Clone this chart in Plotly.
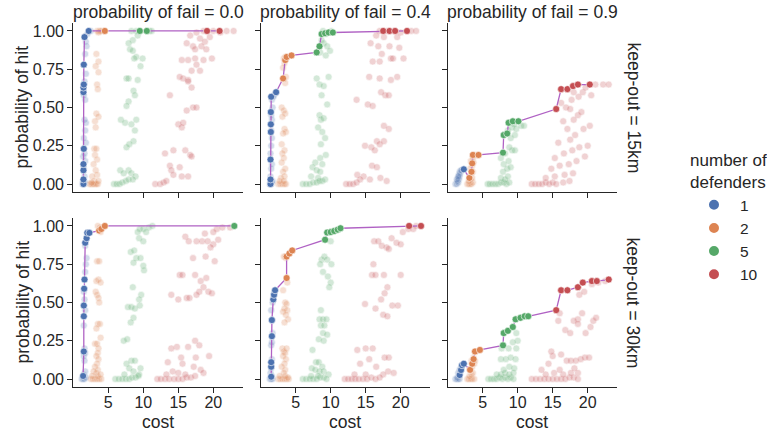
import plotly.graph_objects as go

GROUPS = ["1", "2", "5", "10"]
COLORS = ["#4C72B0", "#DD8452", "#55A868", "#C44E52"]
FAIL_PROBS = ["0.0", "0.4", "0.9"]
KEEP_OUTS = ["15km", "30km"]
X_TICKS = [5, 10, 15, 20]
Y_TICKS = [0, 0.25, 0.5, 0.75, 1.0]
Y_TICK_LABELS = ["0.00", "0.25", "0.50", "0.75", "1.00"]

# ---------- keep-out 15km, fail 0.0 ----------
A1_all = [(1.3,0.0),(1.5,0.0),(1.7,0.01),(1.4,0.02),(1.6,0.05),(1.5,0.1),(1.7,0.15),(1.4,0.18),(1.6,0.2),(1.8,0.27),
          (1.5,0.3),(1.7,0.35),(1.8,0.4),(1.6,0.42),(1.7,0.55),(1.5,0.58),(1.6,0.67),(1.8,0.72),(1.7,0.85),(1.9,0.9),
          (1.8,0.93),(2.0,0.98),(2.5,1.0)]
A2_all = [(3.4,1.0),(3.7,1.0),(3.9,1.0),(4.1,1.0),(3.6,0.99),(3.3,0.85),(3.6,0.8),(3.2,0.77),(3.6,0.73),(3.4,0.65),
          (3.5,0.62),(3.3,0.46),(3.6,0.44),(3.1,0.41),(3.2,0.37),(3.0,0.23),(3.3,0.23),(3.1,0.19),(3.4,0.16),(2.9,0.13),
          (3.2,0.09),(3.4,0.06),(2.7,0.05),(3.0,0.02),(2.3,0.0),(2.5,0.0),(2.7,0.0),(2.9,0.0),(3.1,0.0),(3.3,0.0),
          (3.5,0.0),(2.6,0.01),(3.6,0.02)]
A5_all = [(8.3,1.0),(9.0,1.0),(10.5,1.0),(10.9,1.0),(11.2,1.0),(8.5,0.94),(9.2,0.97),(7.9,0.92),(8.1,0.88),(8.5,0.87),
          (9.0,0.83),(8.7,0.82),(9.9,0.82),(9.6,0.77),(7.6,0.69),(7.9,0.69),(9.2,0.68),(8.6,0.61),(8.8,0.58),(7.9,0.54),
          (7.6,0.51),(6.8,0.42),(7.4,0.40),(8.3,0.39),(9.0,0.42),(8.8,0.35),(7.6,0.24),(8.0,0.26),(8.6,0.28),(6.7,0.09),
          (7.9,0.09),(7.2,0.07),(8.3,0.07),(8.9,0.05),(5.8,0.0),(6.2,0.0),(6.6,0.0),(7.0,0.01),(7.5,0.02),(7.9,0.03),(8.5,0.03)]
A10_all = [(21.9,1.0),(22.9,1.0),(21.0,0.99),(20.0,1.0),(18.6,1.0),(17.6,0.99),(16.7,0.97),(18.1,0.95),(18.8,0.93),(19.5,0.96),
           (18.3,0.9),(17.1,0.9),(16.2,0.92),(19.0,0.88),(17.4,0.88),(19.8,0.82),(18.6,0.81),(17.4,0.82),(16.4,0.81),(15.5,0.81),
           (17.6,0.78),(16.9,0.74),(18.1,0.74),(16.4,0.68),(15.7,0.69),(15.2,0.70),(16.9,0.63),(16.4,0.67),(17.1,0.5),(17.6,0.5),
           (16.2,0.48),(13.8,0.58),(15.0,0.39),(15.5,0.37),(15.7,0.4),(13.1,0.2),(14.3,0.22),(16.0,0.22),(16.7,0.19),(16.9,0.18),
           (13.8,0.12),(14.0,0.09),(15.2,0.11),(14.3,0.06),(15.5,0.05),(16.4,0.05),(11.7,0.0),(12.4,0.0),(12.9,0.01),(13.3,0.02)]
A1_front = [(1.45,0.0),(1.45,0.03),(1.45,0.09),(1.45,0.13),(1.5,0.23),(1.45,0.60),(1.45,0.63),(1.5,0.65),(1.5,0.78),(1.6,0.96),(2.2,1.0)]
A2_front = [(4.5,1.0)]
A5_front = [(9.5,1.0),(10.5,1.0)]
A10_front = [(19.1,1.0),(20.9,1.0)]

# ---------- keep-out 15km, fail 0.4 ----------
B1_all = [(1.3,0.0),(1.5,0.0),(1.6,0.01),(1.7,0.02),(1.4,0.05),(1.5,0.1),(1.6,0.13),(1.4,0.2),(1.5,0.25),(1.6,0.3),
          (1.5,0.35),(1.6,0.42),(1.5,0.45),(1.7,0.5),(1.6,0.55),(1.8,0.57),(1.9,0.58)]
B2_all = [(3.3,0.82),(3.5,0.83),(3.6,0.82),(3.4,0.79),(3.2,0.76),(3.6,0.7),(3.3,0.69),(3.5,0.66),(3.0,0.5),(3.3,0.48),
          (3.5,0.46),(3.1,0.44),(3.4,0.36),(3.6,0.34),(3.2,0.33),(3.0,0.26),(3.4,0.22),(3.1,0.2),(3.3,0.17),(3.0,0.14),
          (3.5,0.1),(3.2,0.08),(3.4,0.05),(2.9,0.04),(2.5,0.0),(2.8,0.0),(3.1,0.0),(3.4,0.0),(3.6,0.0),(2.7,0.02),(3.3,0.02)]
B5_all = [(8.9,1.0),(9.3,0.98),(9.8,0.99),(10.1,1.0),(8.7,0.94),(9.0,0.92),(9.5,0.9),(9.9,0.87),(8.5,0.86),(9.3,0.84),
          (8.0,0.69),(8.4,0.65),(9.0,0.64),(9.7,0.7),(8.7,0.58),(9.5,0.52),(8.6,0.42),(8.4,0.45),(9.0,0.43),(8.2,0.37),
          (8.8,0.34),(9.2,0.3),(8.6,0.26),(9.3,0.19),(8.5,0.17),(7.8,0.14),(8.8,0.13),(7.4,0.11),(8.0,0.09),(8.5,0.08),
          (7.2,0.05),(8.2,0.04),(6.0,0.0),(6.5,0.0),(7.0,0.0),(7.5,0.01),(8.0,0.01),(8.4,0.02),(8.8,0.02),(9.2,0.03)]
B10_all = [(17.0,1.0),(18.0,1.0),(19.0,1.0),(20.0,0.99),(21.5,1.0),(22.2,1.0),(16.5,0.97),(17.6,0.96),(19.5,0.96),(15.7,0.92),
           (16.8,0.9),(18.4,0.9),(19.8,0.89),(17.3,0.85),(18.6,0.82),(20.4,0.82),(16.0,0.8),(17.0,0.8),(18.9,0.82),(15.5,0.7),
           (17.0,0.69),(18.6,0.68),(19.5,0.7),(13.7,0.55),(15.3,0.52),(16.0,0.51),(17.8,0.58),(18.3,0.58),(17.2,0.6),(17.6,0.38),
           (18.3,0.36),(16.6,0.28),(17.0,0.26),(14.9,0.25),(15.8,0.24),(16.3,0.22),(17.6,0.28),(15.9,0.12),(16.6,0.11),(13.8,0.06),
           (14.7,0.05),(15.6,0.03),(17.1,0.04),(18.0,0.02),(12.2,0.0),(12.7,0.0),(13.2,0.0),(13.7,0.01),(14.2,0.03)]
B1_front = [(1.4,0.0),(1.4,0.03),(1.4,0.16),(1.45,0.34),(1.45,0.39),(1.45,0.47),(1.5,0.57),(2.2,0.60)]
B2_front = [(3.2,0.69),(3.5,0.81),(3.7,0.83),(4.4,0.84)]
B5_front = [(8.0,0.86),(8.4,0.90),(8.7,0.98),(9.2,0.985),(9.7,0.99),(10.3,0.99)]
B10_front = [(17.5,1.0),(18.4,1.0),(19.2,1.0),(20.9,1.0)]

# ---------- keep-out 15km, fail 0.9 ----------
C1_all = [(1.1,0.0),(1.3,0.0),(1.5,0.01),(1.4,0.02),(1.6,0.03),(1.5,0.04),(1.7,0.05),(1.6,0.06),(1.8,0.07),(1.7,0.08),
          (1.9,0.09),(2.0,0.09),(1.3,0.03),(1.5,0.05)]
C2_all = [(2.8,0.0),(3.0,0.0),(3.2,0.0),(3.4,0.0),(3.6,0.01),(3.0,0.02),(3.3,0.03),(3.5,0.04),(3.1,0.05),(3.4,0.07),
          (3.6,0.08),(3.2,0.1),(3.5,0.12),(3.7,0.14),(3.3,0.15),(3.6,0.17),(3.9,0.19),(4.2,0.19)]
C5_all = [(5.7,0.0),(6.0,0.0),(6.4,0.0),(6.8,0.0),(7.2,0.0),(7.6,0.01),(8.0,0.01),(8.4,0.0),(8.8,0.01),(7.6,0.04),
          (8.2,0.03),(8.6,0.05),(7.9,0.08),(8.5,0.1),(9.0,0.11),(8.0,0.13),(8.7,0.15),(7.6,0.17),(8.2,0.2),(9.2,0.22),
          (9.6,0.22),(8.8,0.24),(9.0,0.3),(9.6,0.32),(8.6,0.35),(9.2,0.37),(9.8,0.36),(10.5,0.38),(10.9,0.38),(9.5,0.39)]
C10_all = [(12.0,0.0),(12.5,0.0),(13.0,0.0),(13.5,0.0),(14.0,0.01),(14.5,0.0),(15.0,0.01),(15.5,0.0),(16.5,0.01),(17.4,0.02),
           (14.0,0.04),(15.3,0.05),(16.7,0.06),(17.9,0.07),(14.8,0.1),(16.0,0.12),(17.3,0.13),(18.4,0.15),(19.6,0.18),(15.3,0.17),
           (16.6,0.2),(17.8,0.22),(18.8,0.24),(20.0,0.25),(15.8,0.27),(17.5,0.29),(18.2,0.32),(19.4,0.36),(20.3,0.38),(17.1,0.36),
           (16.5,0.41),(18.0,0.42),(18.6,0.45),(19.1,0.47),(16.9,0.5),(17.5,0.49),(16.2,0.53),(17.7,0.55),(18.7,0.57),(19.3,0.6),
           (20.5,0.58),(21.1,0.65),(22.2,0.65),(23.0,0.65),(18.0,0.6),(19.7,0.63)]
C1_front = [(2.3,0.096)]
C2_front = [(3.1,0.04),(3.4,0.08),(3.5,0.135),(3.6,0.19),(4.4,0.19)]
C5_front = [(7.9,0.205),(8.0,0.32),(8.5,0.33),(8.7,0.40),(9.3,0.41),(10.1,0.41)]
C10_front = [(15.5,0.49),(16.2,0.62),(17.1,0.62),(17.9,0.64),(18.6,0.65),(20.3,0.65)]

# ---------- keep-out 30km, fail 0.0 ----------
D1_all = [(1.2,0.0),(1.4,0.0),(1.6,0.0),(1.8,0.01),(1.5,0.03),(1.7,0.05),(1.6,0.12),(1.5,0.15),(1.7,0.17),(1.6,0.2),
          (1.5,0.35),(1.7,0.45),(1.6,0.52),(1.5,0.57),(1.7,0.7),(1.8,0.75),(1.9,0.79),(1.7,0.87),(1.9,0.93)]
D2_all = [(3.5,1.0),(3.8,0.99),(4.2,0.99),(3.9,0.96),(3.4,0.77),(3.7,0.77),(3.6,0.65),(3.3,0.64),(3.9,0.63),(3.2,0.57),
          (3.4,0.55),(3.6,0.53),(3.7,0.5),(3.5,0.36),(3.8,0.36),(3.3,0.33),(3.9,0.27),(3.1,0.23),(3.4,0.23),(3.6,0.2),
          (3.5,0.17),(3.3,0.15),(3.6,0.13),(3.4,0.1),(3.1,0.08),(3.5,0.06),(2.9,0.05),(3.3,0.04),(2.5,0.0),(2.8,0.0),
          (3.1,0.0),(3.4,0.0),(3.7,0.0),(4.0,0.0),(2.7,0.02),(3.5,0.02),(3.9,0.03)]
D5_all = [(9.5,0.98),(10.0,0.98),(10.8,0.99),(11.3,1.0),(9.2,0.96),(10.4,0.96),(9.4,0.92),(10.0,0.9),(8.2,0.83),(8.7,0.84),
          (9.0,0.79),(9.6,0.79),(8.6,0.76),(10.0,0.74),(10.1,0.71),(8.5,0.6),(9.7,0.55),(9.4,0.52),(7.8,0.47),(8.3,0.47),
          (8.8,0.46),(9.5,0.48),(8.6,0.4),(8.2,0.37),(7.2,0.25),(7.7,0.26),(8.3,0.12),(7.6,0.1),(8.8,0.12),(9.6,0.07),
          (8.0,0.07),(8.6,0.05),(9.4,0.03),(6.0,0.0),(6.5,0.0),(7.0,0.0),(7.5,0.0),(8.0,0.0),(8.4,0.01),(8.9,0.01),
          (9.3,0.02),(7.3,0.03)]
D10_all = [(20.5,0.98),(21.3,0.99),(22.4,0.99),(18.8,0.95),(20.0,0.96),(16.0,0.93),(16.5,0.9),(17.6,0.9),(18.4,0.9),(19.2,0.9),
           (20.0,0.88),(19.6,0.86),(20.7,0.91),(18.9,0.8),(17.1,0.79),(20.2,0.77),(15.2,0.68),(15.6,0.68),(17.4,0.68),(18.2,0.64),
           (19.0,0.66),(18.6,0.6),(18.0,0.57),(17.6,0.55),(19.3,0.57),(19.8,0.56),(16.2,0.53),(16.6,0.53),(14.0,0.55),(15.0,0.52),
           (17.4,0.25),(18.0,0.22),(16.4,0.21),(14.8,0.21),(14.0,0.2),(15.4,0.14),(17.5,0.14),(19.4,0.15),(13.5,0.11),(15.6,0.1),
           (17.2,0.08),(18.2,0.06),(14.2,0.05),(15.0,0.04),(18.6,0.04),(12.0,0.0),(12.5,0.0),(13.1,0.0),(13.7,0.0),(14.4,0.0),
           (15.0,0.0),(15.6,0.0),(16.2,0.01),(16.8,0.01),(17.4,0.02),(13.3,0.03),(16.0,0.03)]
D1_front = [(1.4,0.02),(1.5,0.18),(1.5,0.41),(1.5,0.48),(1.55,0.59),(1.6,0.65),(1.7,0.89),(1.9,0.92),(2.0,0.955),(2.3,0.955)]
D2_front = [(3.7,0.97),(4.0,0.98),(4.5,1.0)]
D5_front = [(23.0,1.0)]
D10_front = []

# ---------- keep-out 30km, fail 0.4 ----------
E1_all = [(1.3,0.0),(1.5,0.0),(1.7,0.0),(1.6,0.02),(1.4,0.04),(1.5,0.07),(1.6,0.13),(1.5,0.22),(1.6,0.24),(1.7,0.3),
          (1.6,0.38),(1.5,0.45),(1.7,0.5),(1.8,0.53),(1.9,0.56)]
E2_all = [(3.3,0.8),(3.5,0.8),(3.6,0.79),(3.8,0.63),(3.2,0.58),(3.5,0.5),(3.7,0.49),(3.4,0.46),(3.8,0.45),(3.2,0.44),
          (3.6,0.42),(3.9,0.39),(3.4,0.37),(3.1,0.2),(3.3,0.18),(3.5,0.17),(3.7,0.2),(3.2,0.15),(3.6,0.13),(3.4,0.1),
          (3.0,0.08),(3.5,0.06),(3.3,0.04),(2.5,0.0),(2.8,0.0),(3.1,0.0),(3.4,0.0),(3.7,0.0),(4.0,0.0),(2.7,0.02),
          (3.5,0.02),(3.9,0.01)]
E5_all = [(10.0,0.9),(8.7,0.78),(9.1,0.8),(9.5,0.78),(8.5,0.75),(10.1,0.75),(8.9,0.7),(9.6,0.67),(10.0,0.63),(9.8,0.6),
          (8.6,0.45),(8.4,0.39),(8.9,0.39),(9.4,0.39),(8.6,0.35),(9.1,0.35),(8.9,0.3),(9.5,0.29),(8.3,0.26),(9.0,0.25),
          (7.4,0.19),(7.9,0.11),(8.3,0.11),(8.8,0.08),(7.3,0.07),(7.8,0.06),(8.4,0.05),(9.0,0.05),(9.7,0.03),(6.0,0.0),
          (6.5,0.0),(7.0,0.0),(7.5,0.0),(8.0,0.0),(8.5,0.01),(9.0,0.01),(9.4,0.0),(7.2,0.02),(8.2,0.02)]
E10_all = [(20.3,0.96),(21.1,0.98),(21.8,0.98),(22.2,1.0),(16.2,0.9),(16.8,0.9),(18.7,0.92),(19.4,0.89),(20.0,0.88),(18.0,0.86),
           (18.3,0.85),(17.3,0.87),(16.1,0.75),(15.9,0.68),(16.4,0.68),(17.6,0.68),(20.0,0.68),(18.1,0.6),(14.9,0.49),(16.4,0.46),
           (17.2,0.52),(17.7,0.56),(18.8,0.48),(19.6,0.48),(17.5,0.42),(18.1,0.41),(15.0,0.2),(16.0,0.2),(13.8,0.19),(17.7,0.14),
           (18.3,0.14),(15.5,0.13),(14.2,0.1),(16.5,0.08),(18.2,0.05),(19.0,0.04),(17.5,0.03),(12.0,0.0),(12.5,0.0),(13.0,0.0),
           (13.5,0.0),(14.0,0.0),(14.6,0.0),(15.2,0.0),(15.8,0.01),(16.4,0.0),(17.0,0.01),(13.4,0.03),(15.0,0.03)]
E1_front = [(1.5,0.015),(1.5,0.08),(1.5,0.11),(1.6,0.28),(1.6,0.385),(1.8,0.52),(1.9,0.55),(2.05,0.58)]
E2_front = [(3.7,0.66),(3.7,0.80),(4.1,0.82),(4.5,0.84)]
E5_front = [(9.2,0.91),(9.5,0.957),(10.0,0.96),(10.5,0.967),(11.0,0.976),(11.4,0.985)]
E10_front = [(21.2,1.0),(22.9,1.0)]

# ---------- keep-out 30km, fail 0.9 ----------
F1_all = [(1.1,0.0),(1.3,0.0),(1.5,0.0),(1.7,0.0),(1.4,0.01),(1.6,0.02),(1.8,0.04),(1.5,0.04),(1.9,0.07),(2.0,0.09),(1.7,0.06)]
F2_all = [(2.8,0.0),(3.0,0.0),(3.3,0.0),(3.5,0.0),(3.8,0.0),(3.1,0.02),(3.4,0.03),(3.6,0.04),(3.2,0.06),(3.5,0.08),
          (3.8,0.1),(3.4,0.12),(3.7,0.14),(3.9,0.12)]
F5_all = [(5.8,0.0),(6.2,0.0),(6.6,0.0),(7.0,0.0),(7.4,0.01),(7.8,0.0),(8.2,0.01),(8.6,0.0),(9.0,0.01),(9.4,0.0),
          (7.0,0.03),(7.6,0.03),(8.2,0.04),(8.8,0.03),(9.4,0.04),(8.0,0.06),(8.8,0.08),(9.5,0.07),(7.6,0.13),(8.3,0.13),
          (9.0,0.14),(9.7,0.13),(7.7,0.2),(8.7,0.2),(9.8,0.2),(10.0,0.25),(9.3,0.24),(9.8,0.3)]
F10_all = [(12.0,0.0),(12.6,0.0),(13.2,0.0),(13.8,0.0),(14.4,0.0),(15.0,0.0),(15.6,0.0),(16.2,0.0),(16.8,0.0),(17.4,0.01),
           (18.0,0.01),(18.6,0.0),(14.0,0.03),(15.2,0.04),(16.5,0.03),(17.6,0.04),(18.6,0.04),(13.4,0.06),(16.0,0.06),(18.1,0.07),
           (14.4,0.1),(15.0,0.15),(16.2,0.16),(17.0,0.12),(17.6,0.12),(18.3,0.12),(19.0,0.13),(19.6,0.14),(20.2,0.14),(14.8,0.18),
           (16.0,0.43),(15.8,0.38),(18.6,0.39),(19.2,0.43),(18.0,0.38),(18.6,0.36),(20.4,0.34),(20.8,0.38),(21.2,0.4),(19.7,0.3),
           (16.8,0.32),(17.5,0.3),(18.8,0.55),(19.5,0.57),(20.6,0.62),(21.5,0.63),(22.5,0.64)]
F1_front = [(1.7,0.026),(1.9,0.059),(2.05,0.09),(2.3,0.10)]
F2_front = [(3.2,0.06),(3.5,0.10),(3.7,0.13),(3.9,0.18),(4.6,0.19)]
F5_front = [(7.9,0.22),(8.0,0.30),(8.6,0.315),(9.3,0.34),(9.7,0.39),(10.4,0.40),(11.0,0.41),(11.5,0.41)]
F10_front = [(15.5,0.45),(16.2,0.58),(17.1,0.58),(18.6,0.60),(19.3,0.63),(20.6,0.64),(21.3,0.64),(23.0,0.65)]

PANEL_ALL = {
    (0, 0): [A1_all, A2_all, A5_all, A10_all], (0, 1): [B1_all, B2_all, B5_all, B10_all], (0, 2): [C1_all, C2_all, C5_all, C10_all],
    (1, 0): [D1_all, D2_all, D5_all, D10_all], (1, 1): [E1_all, E2_all, E5_all, E10_all], (1, 2): [F1_all, F2_all, F5_all, F10_all],
}
PANEL_FRONT = {
    (0, 0): [A1_front, A2_front, A5_front, A10_front], (0, 1): [B1_front, B2_front, B5_front, B10_front],
    (0, 2): [C1_front, C2_front, C5_front, C10_front], (1, 0): [D1_front, D2_front, D5_front, D10_front],
    (1, 1): [E1_front, E2_front, E5_front, E10_front], (1, 2): [F1_front, F2_front, F5_front, F10_front],
}

W, H = 767, 435
COL_PX = [(73.3, 242.7), (260.7, 430.1), (447.7, 617.1)]
ROW_PX = [(23, 192), (218, 387)]
FONT = "Liberation Sans, Arial, sans-serif"
INK = "#262626"
LINE_COLOR = "#B062C4"
TICK_SIZE = 16
LABEL_SIZE = 17.5

fig = go.Figure()
layout = dict(
    width=W, height=H, margin=dict(l=0, r=0, t=0, b=0, autoexpand=False),
    paper_bgcolor="white", plot_bgcolor="white",
    font=dict(family=FONT, color=INK, size=16),
    showlegend=True,
)

annotations = []
for r in range(2):
    for c in range(3):
        i = r * 3 + c + 1
        xa = "x" if i == 1 else f"x{i}"
        ya = "y" if i == 1 else f"y{i}"
        for g, pts in enumerate(PANEL_ALL[(r, c)]):
            if not pts:
                continue
            fig.add_trace(go.Scatter(
                x=[p[0] for p in pts], y=[p[1] for p in pts], mode="markers",
                xaxis=xa, yaxis=ya, showlegend=False, hoverinfo="skip",
                marker=dict(color=COLORS[g], size=7, opacity=0.25, line=dict(color="white", width=0.6)),
            ))
        path = [p for pts in PANEL_FRONT[(r, c)] for p in pts]
        fig.add_trace(go.Scatter(
            x=[p[0] for p in path], y=[p[1] for p in path], mode="lines",
            xaxis=xa, yaxis=ya, showlegend=False, hoverinfo="skip",
            line=dict(color=LINE_COLOR, width=1.3),
        ))
        for g, pts in enumerate(PANEL_FRONT[(r, c)]):
            if not pts:
                continue
            fig.add_trace(go.Scatter(
                x=[p[0] for p in pts], y=[p[1] for p in pts], mode="markers",
                xaxis=xa, yaxis=ya, name=GROUPS[g],
                showlegend=(r == 0 and c == 0),
                marker=dict(color=COLORS[g], size=7, line=dict(color="white", width=0.6)),
            ))
        x0, x1 = COL_PX[c]
        y0, y1 = ROW_PX[r]
        axis_common = dict(
            showline=True, linecolor=INK, linewidth=1.25, mirror=False, automargin=False,
            ticks="outside", ticklen=5, tickwidth=1.25, tickcolor=INK,
            showgrid=False, zeroline=False, tickfont=dict(size=TICK_SIZE, color=INK, family=FONT),
        )
        layout["xaxis" if i == 1 else f"xaxis{i}"] = dict(
            axis_common, domain=[x0 / W, x1 / W], anchor=ya, range=[0, 24.2],
            tickvals=X_TICKS, showticklabels=(r == 1), ticklabelstandoff=-4,
        )
        layout["yaxis" if i == 1 else f"yaxis{i}"] = dict(
            axis_common, domain=[1 - y1 / H, 1 - y0 / H], anchor=xa, range=[-0.052, 1.052],
            tickvals=Y_TICKS, ticktext=Y_TICK_LABELS, showticklabels=(c == 0),
        )
        if r == 1:
            annotations.append(dict(
                text="cost", x=(x0 + x1) / 2 / W, y=1 - 422 / H,
                xref="paper", yref="paper", xanchor="center", yanchor="middle", showarrow=False,
                font=dict(size=LABEL_SIZE, family=FONT, color=INK),
            ))
        if c == 0:
            annotations.append(dict(
                text="probability of hit", x=22 / W, y=1 - (y0 + y1) / 2 / H,
                xref="paper", yref="paper", xanchor="center", yanchor="middle", showarrow=False,
                textangle=-90, font=dict(size=LABEL_SIZE, family=FONT, color=INK),
            ))
        if r == 0:
            annotations.append(dict(
                text=f"probability of fail = {FAIL_PROBS[c]}", x=(x0 + x1) / 2 / W, y=1 - 12 / H,
                xref="paper", yref="paper", xanchor="center", yanchor="middle", showarrow=False,
                font=dict(size=LABEL_SIZE, family=FONT, color=INK),
            ))
        if c == 2:
            annotations.append(dict(
                text=f"keep-out = {KEEP_OUTS[r]}", x=633 / W, y=1 - (y0 + y1) / 2 / H,
                xref="paper", yref="paper", xanchor="center", yanchor="middle", showarrow=False,
                textangle=90, font=dict(size=LABEL_SIZE, family=FONT, color=INK),
            ))

layout["annotations"] = annotations
layout["legend"] = dict(
    title=dict(text="number of<br>defenders", side="top center", font=dict(size=17, family=FONT, color=INK)),
    x=688 / W, xanchor="left", y=1 - 144 / H, yanchor="top",
    font=dict(size=15.5, family=FONT, color=INK), bgcolor="rgba(0,0,0,0)", itemsizing="constant",
    tracegroupgap=0, itemwidth=42,
)
fig.update_layout(**layout)
fig.write_html("out.html", config={"displayModeBar": False},
               post_script="document.body.style.margin='0';document.body.style.padding='0';")
